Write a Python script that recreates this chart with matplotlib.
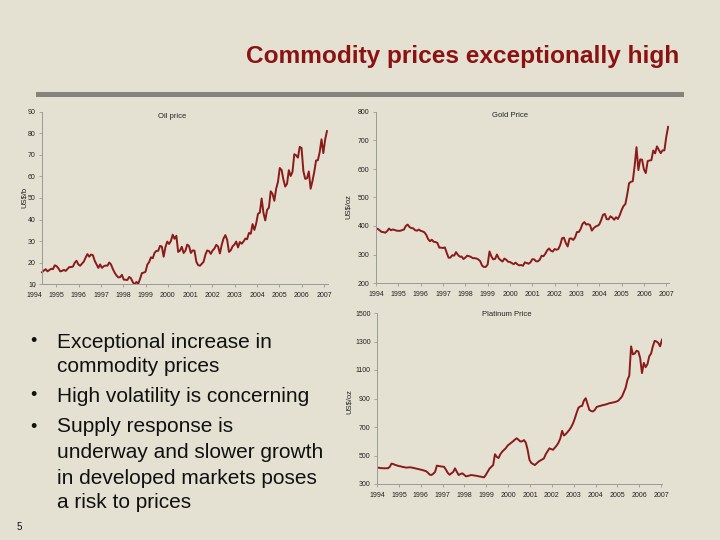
import matplotlib
matplotlib.use('Agg')
import matplotlib.pyplot as plt
import numpy as np
import pandas as pd

plt.rcParams['font.family'] = ['Liberation Sans', 'DejaVu Sans']

# monthly averages, Sep 1994 - Oct 2007
dates = pd.date_range('1994-09-01', '2007-10-01', freq='MS')
years = list(range(1994, 2008))

oil = [15.6, 16.4, 17.0, 16.0,
       16.6, 17.2, 17.0, 18.8, 18.4, 17.4, 16.0, 16.2, 16.7, 16.2, 17.1, 18.0,
       18.0, 18.2, 20.0, 20.9, 19.2, 18.6, 19.6, 20.5, 22.4, 24.0, 22.8, 23.8,
       23.5, 20.9, 19.2, 17.6, 19.2, 17.6, 18.4, 18.7, 18.6, 20.1, 19.2, 17.1,
       15.4, 14.1, 13.2, 13.3, 14.4, 12.2, 12.1, 12.0, 13.4, 12.8, 11.0, 9.9,
       11.1, 10.3, 12.5, 15.2, 15.4, 15.8, 19.1, 20.3, 22.5, 22.1, 24.6, 25.5,
       25.5, 27.8, 27.5, 22.8, 27.3, 29.8, 28.7, 30.1, 33.0, 31.1, 32.5, 25.0,
       25.6, 27.4, 24.5, 25.6, 28.4, 27.7, 24.5, 25.7, 25.6, 20.5, 18.9, 18.6,
       19.5, 20.4, 23.7, 25.7, 25.4, 24.1, 25.7, 26.6, 28.3, 27.5, 24.3, 28.3,
       31.2, 32.8, 30.6, 25.0, 25.8, 27.6, 28.4, 29.8, 27.1, 29.6, 28.8, 29.8,
       31.2, 30.9, 33.8, 33.4, 37.9, 35.2, 38.2, 42.7, 43.2, 49.8, 43.1, 39.6,
       44.5, 45.5, 53.1, 51.9, 48.7, 54.3, 57.5, 63.9, 63.0, 58.5, 55.3, 56.6,
       62.9, 60.2, 62.1, 70.3, 69.8, 68.7, 73.7, 73.2, 62.5, 58.9, 59.1, 62.3,
       54.3, 57.8, 62.1, 67.4, 67.5, 71.3, 77.2, 70.8, 77.1, 81.0]

gold = [391.6, 389.8, 384.4, 379.3,
        378.6, 376.5, 382.1, 391.0, 385.2, 387.6, 386.2, 383.7, 383.1, 383.1, 385.5, 387.4,
        400.0, 405.0, 396.4, 392.8, 391.9, 385.3, 383.5, 387.5, 383.1, 381.1, 377.9, 369.2,
        354.1, 346.6, 351.8, 344.5, 343.8, 340.7, 324.1, 324.0, 322.8, 324.9, 306.0, 288.7,
        289.1, 297.5, 295.9, 308.4, 299.1, 292.3, 292.9, 284.1, 289.0, 295.9, 294.1, 291.6,
        287.1, 287.3, 285.9, 282.6, 276.4, 261.3, 256.2, 256.7, 264.7, 310.7, 293.2, 283.1,
        284.6, 299.9, 286.4, 280.0, 275.3, 285.7, 281.6, 274.5, 273.7, 270.0, 266.0, 271.5,
        265.5, 261.9, 263.0, 260.5, 272.4, 270.2, 267.5, 272.4, 283.4, 283.1, 276.2, 275.9,
        281.7, 295.5, 294.0, 302.7, 314.5, 321.2, 313.3, 310.3, 319.2, 316.6, 319.2, 333.4,
        356.9, 359.0, 340.6, 328.2, 355.7, 356.4, 351.0, 359.8, 378.9, 378.9, 389.9, 407.6,
        413.8, 404.9, 406.7, 403.3, 383.8, 392.4, 398.1, 400.5, 405.3, 420.5, 439.4, 442.1,
        424.0, 423.4, 434.2, 429.2, 421.9, 430.7, 424.5, 437.9, 456.0, 469.9, 476.7, 509.8,
        549.9, 555.0, 557.1, 610.6, 676.5, 596.2, 633.7, 632.6, 598.2, 585.8, 627.8, 629.8,
        631.2, 664.8, 654.9, 679.4, 666.9, 655.5, 665.3, 665.4, 712.7, 748.0]

platinum = [415, 414, 412, 411,
            410, 411, 410, 420, 443, 440, 434, 430, 426, 424, 420, 418,
            415, 416, 417, 416, 413, 410, 407, 404, 401, 398, 394, 390,
            380, 366, 363, 372, 385, 429, 426, 424, 422, 420, 400, 378,
            365, 375, 385, 410, 385, 363, 370, 375, 365, 354, 356, 360,
            363, 361, 359, 357, 354, 352, 349, 347, 365, 387, 408, 420,
            433, 509, 490, 482, 510, 527, 540, 552, 570, 580, 590, 600,
            612, 621, 610, 598, 600, 608, 590, 540, 470, 448, 440, 433,
            445, 457, 465, 472, 480, 510, 530, 550, 545, 540, 555, 570,
            590, 620, 673, 640, 650, 665, 680, 700, 725, 760, 800, 835,
            845, 848, 885, 902, 860, 820, 812, 809, 820, 840, 845, 848,
            852, 855, 858, 862, 867, 869, 872, 875, 879, 885, 900, 914,
            945, 975, 1031, 1060, 1266, 1210, 1215, 1235, 1230, 1184, 1078, 1150,
            1120, 1140, 1196, 1215, 1266, 1305, 1300, 1290, 1266, 1313]

bg = '#e4e0d2'
line_col = '#8b1a1a'
axis_col = '#9a9a9a'
W, H = 720, 540

fig = plt.figure(figsize=(7.2, 5.4), dpi=100, facecolor=bg)


def add_ax(left, top, right, bottom):
    return fig.add_axes([left / W, 1 - bottom / H, (right - left) / W, (bottom - top) / H])


ylabel_y = {'Oil price': 197, 'Gold Price': 207, 'Platinum Price': 402}


def style(ax, xlim, ylim, yticks, label_pos, title, ylabel, title_xy, ylabel_x):
    ax.set_facecolor(bg)
    ax.set_xlim(*xlim)
    ax.set_ylim(*ylim)
    ax.set_yticks(yticks)
    ax.set_xticks(label_pos)
    ax.set_xticklabels([str(y) for y in years])
    for s in ['top', 'right']:
        ax.spines[s].set_visible(False)
    ax.spines['left'].set_position(('data', 0))
    ax.spines['bottom'].set_bounds(0, xlim[1])
    for s in ['left', 'bottom']:
        ax.spines[s].set_color(axis_col)
        ax.spines[s].set_linewidth(0.7)
    ax.tick_params(axis='both', labelsize=5, colors=axis_col, labelcolor='#222222',
                   length=2.5, width=0.6, direction='out')
    ax.tick_params(axis='x', pad=3)
    ax.tick_params(axis='y', pad=2)
    fig.text(title_xy[0] / W, 1 - title_xy[1] / H, title, fontsize=5.5,
             ha='center', va='center', color='#222222')
    fig.text(ylabel_x / W, 1 - ylabel_y[title] / H, ylabel, fontsize=5.5,
             rotation=90, ha='center', va='center', color='#222222')


x = np.arange(len(dates))

# oil
ax1 = add_ax(33, 111.7, 327.5, 284.3)
ax1.plot(x, oil, color=line_col, lw=1.4)
style(ax1, (-5, 157.3), (10, 90), range(10, 91, 10),
      [-4.4 + i * 12.29 for i in range(len(years))],
      'Oil price', 'US$/b', (172, 116), 24)

# gold
ax2 = add_ax(376, 112, 668.5, 283)
ax2.plot(x, gold, color=line_col, lw=1.4)
style(ax2, (0, 157.2), (200, 800), range(200, 801, 100),
      [i * 12.0 for i in range(len(years))],
      'Gold Price', 'US$/oz', (510, 115), 348)

# platinum
ax3 = add_ax(377, 313, 662.3, 484)
ax3.plot(x, platinum, color=line_col, lw=1.4)
style(ax3, (0, 157.2), (300, 1500), range(300, 1501, 200),
      [i * 12.04 for i in range(len(years))],
      'Platinum Price', 'US$/oz', (507, 315), 349)

# heading and rule
fig.text(679 / W, 1 - 56 / H, 'Commodity prices exceptionally high', fontsize=17.6,
         fontweight='semibold', ha='right', va='center', color='#8b1212')
fig.add_artist(plt.Rectangle((36 / W, 1 - 97 / H), (684 - 36) / W, 5 / H,
                             transform=fig.transFigure, facecolor='#85837b',
                             edgecolor='none'))

# bullets
bullets = [
    ['Exceptional increase in', 'commodity prices'],
    ['High volatility is concerning'],
    ['Supply response is', 'underway and slower growth',
     'in developed markets poses', 'a risk to prices'],
]
line_y = [[342, 366], [396], [427, 453, 479, 503]]
for lines, ys in zip(bullets, line_y):
    fig.text(33 / W, 1 - ys[0] / H, '•', fontsize=13, ha='center', va='center', color='#111111')
    for txt, yy in zip(lines, ys):
        fig.text(57 / W, 1 - yy / H, txt, fontsize=15, ha='left', va='center', color='#111111')

fig.text(19 / W, 1 - 527 / H, '5', fontsize=7, ha='center', va='center', color='#111111')

fig.savefig('out.png', dpi=100, facecolor=bg)
